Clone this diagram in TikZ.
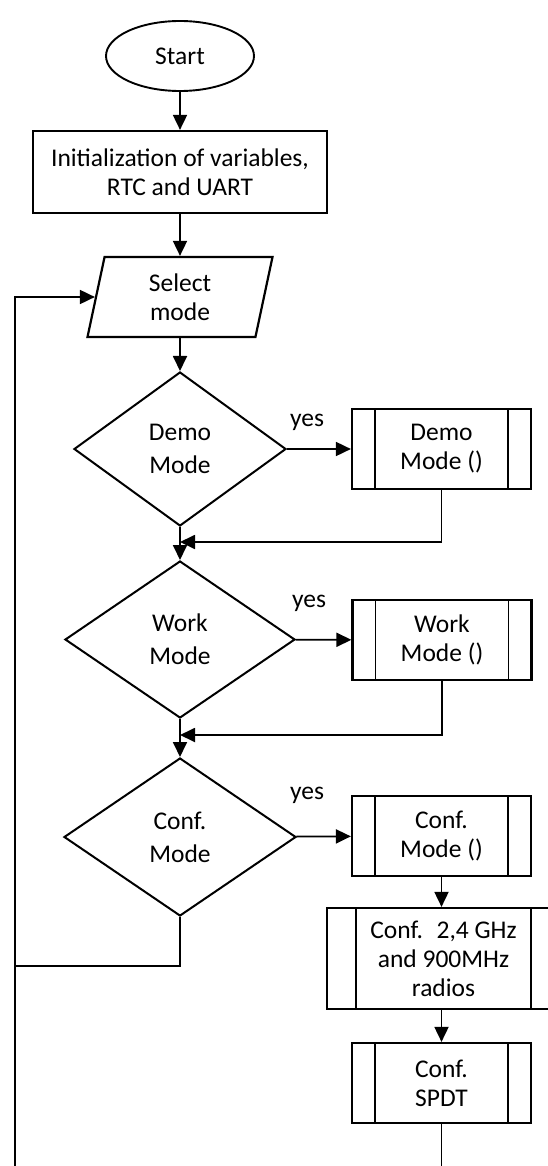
\documentclass[tikz,border=0pt]{standalone}
\usepackage{fontspec}
\setmainfont{Carlito}
\usetikzlibrary{shapes.geometric,arrows.meta,calc}

\begin{document}
\begin{tikzpicture}[x=1pt,y=-1pt,
  every node/.style={font=\fontsize{25.5}{29}\selectfont, align=center, inner sep=0pt},
  base/.style={draw, line width=2.2pt, fill=white},
  terminal/.style={base, line width=1.9pt, ellipse, minimum width=148pt, minimum height=70pt},
  process/.style={base, rectangle, minimum width=294pt, minimum height=82pt},
  io/.style={base, trapezium, trapezium left angle=70, trapezium right angle=110,
    trapezium stretches body, minimum width=185pt, minimum height=80pt},
  decision/.style={draw, line width=2pt, diamond, font=\fontsize{25.5}{33}\selectfont},
  subproc/.style={base, rectangle, minimum width=179pt, minimum height=80pt,
    path picture={
      \draw[line width=1.9pt]
        ([xshift=#1]path picture bounding box.north west) -- ([xshift=#1]path picture bounding box.south west)
        ([xshift=-#1]path picture bounding box.north east) -- ([xshift=-#1]path picture bounding box.south east);}},
  subproc/.default=23pt,
  flow/.style={line width=1.8pt, -{Triangle[length=15pt,width=14pt]}},
  link/.style={line width=1.8pt},
  lbl/.style={font=\fontsize{25.5}{28}\selectfont}
]
\useasboundingbox[fill=white] (0,0) rectangle (547,1166);

% main column
\node[terminal] (start) at (180,56) {Start};
\node[process] (init) at (180,172) {Initialization of variables,\\RTC and UART};
\node[io] (sel) at (180,297) {Select\\mode};
\node[decision, minimum width=212pt, minimum height=154pt] (dDemo) at (180,449) {Demo\\Mode};
\node[decision, minimum width=230pt, minimum height=157pt] (dWork) at (180,639.5) {Work\\Mode};
\node[decision, minimum width=232pt, minimum height=158pt] (dConf) at (180,837) {Conf.\\Mode};

% subroutine column
\node[subproc] (pDemo) at (441.5,449) {Demo\\Mode ()};
\node[subproc] (pWork) at (442,640) {Work\\Mode ()};
\node[subproc] (pConf) at (441.5,836) {Conf.\\Mode ()};
\node[subproc=29pt, minimum width=233pt, minimum height=101pt] (pRadio) at (443.5,958.5)
  {Conf.~ 2,4 GHz\\and 900MHz\\radios};
\node[subproc] (pSpdt) at (441.5,1083) {Conf.\\SPDT};

% branch labels
\node[lbl] (yDemo) at (307,422) {yes};
\node[lbl] (yWork) at (309,603) {yes};
\node[lbl] (yConf) at (307,795) {yes};

% junctions and open ends
\coordinate (j1) at (180,542);
\coordinate (j2) at (180,735);
\coordinate (loopJ) at (15,966);
\coordinate (endL) at (15,1170);
\coordinate (endR) at (441.5,1170);

% connectors
\draw[flow] (start) -- (init);
\draw[flow] (init) -- (sel);
\draw[flow] (sel) -- (dDemo);
\draw[flow] (dDemo) -- (pDemo);
\draw[flow] (pDemo.south) |- (j1);
\draw[flow] (dDemo) -- (dWork);
\draw[flow] (dWork) -- (pWork);
\draw[flow] (pWork.south) |- (j2);
\draw[flow] (dWork) -- (dConf);
\draw[flow] (dConf) -- (pConf);
\draw[flow] (pConf.south) -- (pConf.south |- pRadio.north);
\draw[flow] (pRadio.south -| pSpdt.north) -- (pSpdt.north);
\draw[link] (pSpdt.south) -- (endR);
\draw[link] (dConf.south) |- (loopJ);
\draw[flow] (endL) |- (sel.west);
\end{tikzpicture}
\end{document}
